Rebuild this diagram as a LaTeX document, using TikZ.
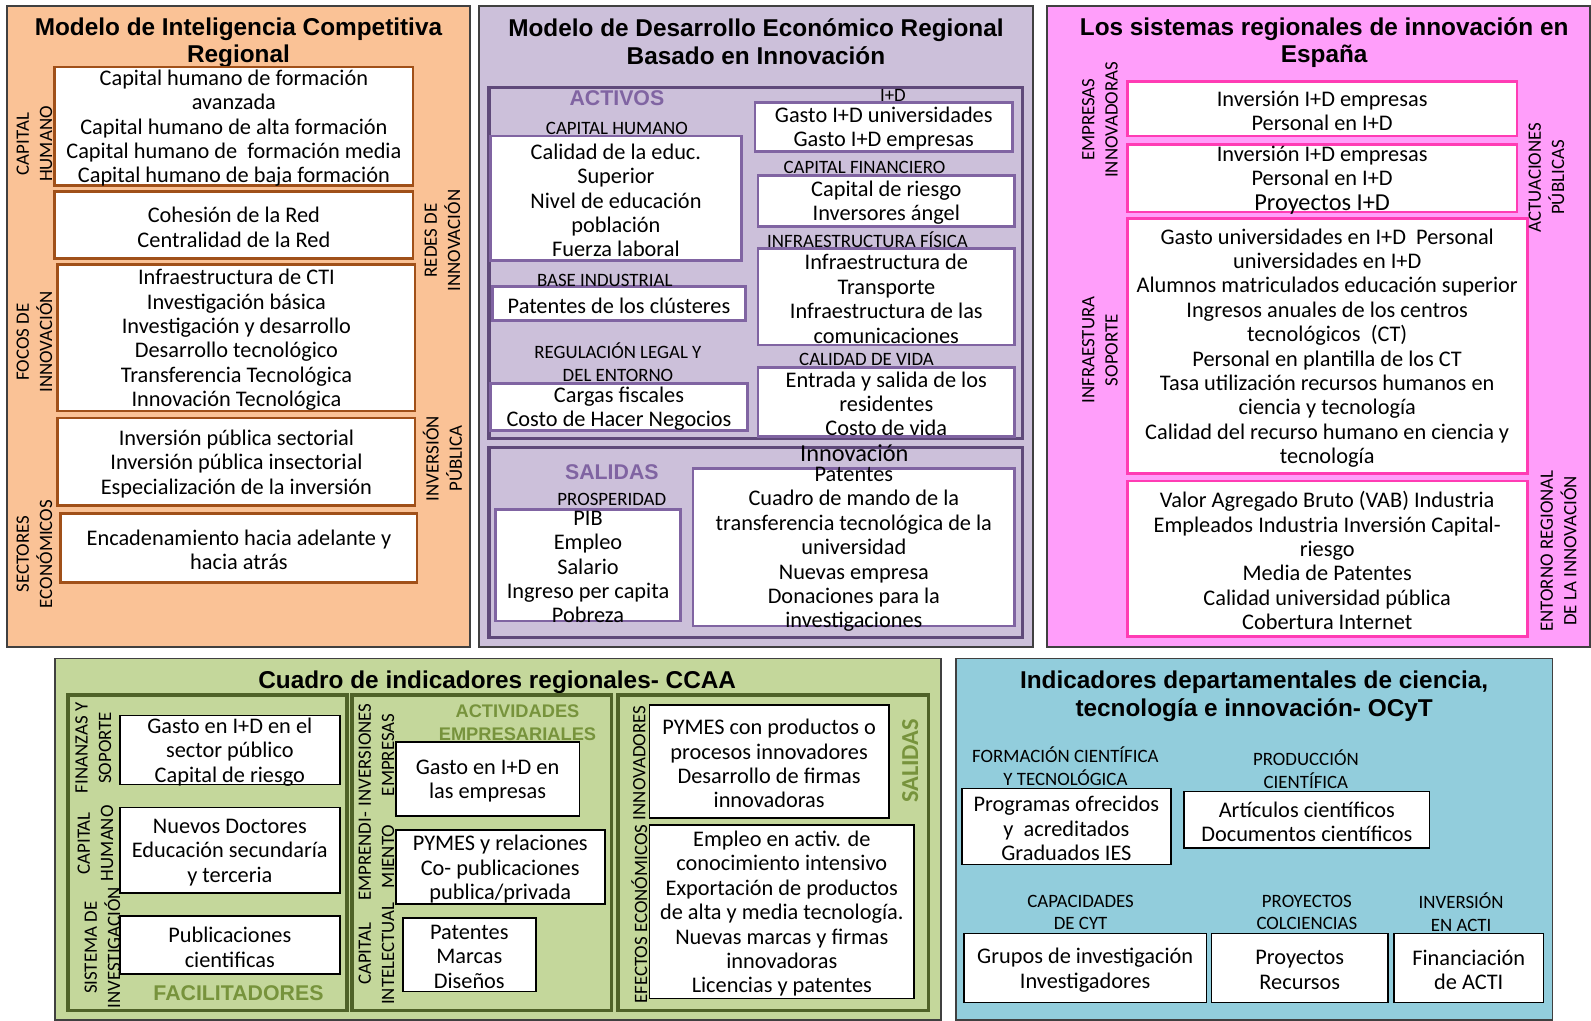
\documentclass[tikz,border=0pt]{standalone}
\usepackage{fontspec}
\setmainfont{Carlito}
\newfontfamily\arialfont{Liberation Sans}
\usetikzlibrary{calc}
\definecolor{naranja}{RGB}{250,194,150}
\definecolor{naranjaborde}{RGB}{160,80,25}
\definecolor{lila}{RGB}{204,192,218}
\definecolor{lilaborde}{RGB}{128,100,162}
\definecolor{lilaoscuro}{RGB}{95,73,122}
\definecolor{rosa}{RGB}{255,158,250}
\definecolor{rosaborde}{RGB}{255,60,180}
\definecolor{verde}{RGB}{196,215,155}
\definecolor{verdeborde}{RGB}{79,98,40}
\definecolor{verdetexto}{RGB}{119,147,60}
\definecolor{azul}{RGB}{146,205,220}

\tikzset{
  panel/.style={draw=black!75, line width=0.9pt},
  marco/.style={line width=1.6pt},
  cuadro/.style={fill=white, line width=1.4pt},
  cnar/.style={draw=naranjaborde},
  clila/.style={draw=lilaborde},
  crosa/.style={draw=rosaborde},
  cneg/.style={draw=black, line width=0.8pt},
  txt/.style={align=center, inner sep=0pt, font=\fontsize{11}{12}\selectfont},
  etiq/.style={align=center, inner sep=0pt, font=\fontsize{9.3}{11}\selectfont},
  lado/.style={etiq, rotate=90, font=\fontsize{9.3}{11.5}\selectfont},
  titulo/.style={align=center, inner sep=0pt, font=\arialfont\bfseries\fontsize{12}{13.5}\selectfont},
  seccion/.style={align=center, inner sep=0pt, font=\arialfont\bfseries\fontsize{10.5}{12}\selectfont},
}

% recuadro blanco con texto centrado
\newcommand{\caja}[5][cneg]{%
  \draw[cuadro,#1] #3 rectangle #4;
  \node[txt, yshift=-1pt] (#2) at ($#3!0.5!#4$) {#5};}

\begin{document}
\begin{tikzpicture}[x=0.5pt, y=-0.5pt]
  \useasboundingbox (0,0) rectangle (1568,1006);
  \fill[white] (0,0) rectangle (1568,1006);

  % Inteligencia competitiva
  \draw[panel, fill=naranja] (7,6) rectangle (463,638);
  \node[titulo] (tIC) at (235,42) {Modelo de Inteligencia Competitiva\\Regional};
  \caja[cnar]{capHum}{(54,66)}{(407,183)}{Capital humano de formación\\avanzada\\Capital humano de alta formación\\Capital humano de\ \ formación media\\Capital humano de baja formación}
  \caja[cnar]{redes}{(54,189)}{(407,255)}{Cohesión de la Red\\Centralidad de la Red}
  \caja[cnar]{focos}{(57,261)}{(409,405)}{Infraestructura de CTI\\Investigación básica\\Investigación y desarrollo\\Desarrollo tecnológico\\Transferencia Tecnológica\\Innovación Tecnológica}
  \caja[cnar]{invPub}{(57,412)}{(409,498)}{Inversión pública sectorial\\Inversión pública insectorial\\Especialización de la inversión}
  \caja[cnar]{sectores}{(60,506)}{(411,574)}{Encadenamiento hacia adelante y\\hacia atrás}
  \node[lado] (lCapHum) at (34,142) {CAPITAL\\HUMANO};
  \node[lado] (lFocos) at (34,337) {FOCOS DE\\INNOVACIÓN};
  \node[lado] (lSect) at (34,546) {SECTORES\\ECONÓMICOS};
  \node[lado] (lRedes) at (436,237) {REDES DE\\INNOVACIÓN};
  \node[lado] (lInv) at (436,452) {INVERSIÓN\\PÚBLICA};

  % Desarrollo economico regional
  \draw[panel, fill=lila] (472,6) rectangle (1018,638);
  \node[titulo] (tDE) at (745,41) {Modelo de Desarrollo Económico Regional\\Basado en Innovación};
  \draw[marco, draw=lilaoscuro] (482,86) rectangle (1008,432);
  \draw[marco, draw=lilaoscuro] (482,441) rectangle (1008,628);
  \node[seccion, text=lilaborde] (activos) at (608,97) {ACTIVOS};
  \caja[clila]{calidad}{(483,134)}{(731,257)}{Calidad de la educ.\\Superior\\Nivel de educación\\población\\Fuerza laboral}
  \node[etiq] (lCH) at (608,127) {CAPITAL HUMANO};
  \caja[clila]{patClu}{(485,282)}{(735,316)}{Patentes de los clústeres}
  \node[etiq] (lBI) at (596,276) {BASE INDUSTRIAL};
  \caja[clila]{cargas}{(483,378)}{(737,424)}{Cargas fiscales\\Costo de Hacer Negocios}
  \node[etiq] (lReg) at (609,357) {REGULACIÓN LEGAL Y\\DEL ENTORNO};
  \caja[clila]{gasto}{(744,101)}{(998,149)}{Gasto I+D universidades\\Gasto I+D empresas}
  \node[etiq] (lID) at (880,94) {I+D};
  \caja[clila]{riesgo}{(747,173)}{(1000,223)}{Capital de riesgo\\Inversores ángel}
  \node[etiq] (lCF) at (852,165) {CAPITAL FINANCIERO};
  \caja[clila]{infra}{(747,245)}{(1000,340)}{Infraestructura de\\Transporte\\Infraestructura de las\\comunicaciones}
  \node[etiq] (lIF) at (855,236) {INFRAESTRUCTURA FÍSICA};
  \caja[clila]{vida}{(747,362)}{(1000,430)}{Entrada y salida de los\\residentes\\Costo de vida}
  \node[etiq] (lCV) at (854,354) {CALIDAD DE VIDA};
  \node[seccion, text=lilaborde] (salidasP) at (603,465) {SALIDAS};
  \caja[clila]{prosp}{(488,502)}{(671,612)}{PIB\\Empleo\\Salario\\Ingreso per capita\\Pobreza}
  \node[etiq] (lProsp) at (603,492) {PROSPERIDAD};
  \caja[clila]{innov}{(683,462)}{(1000,617)}{Patentes\\Cuadro de mando de la\\transferencia tecnológica de la\\universidad\\Nuevas empresa\\Donaciones para la\\investigaciones}
  \node[txt, font=\fontsize{12}{13}\selectfont] (lInno) at (842,447) {Innovación};

  % Sistemas regionales de innovacion
  \draw[panel, fill=rosa] (1032,6) rectangle (1567,638);
  \node[titulo] (tSR) at (1305,42) {Los sistemas regionales de innovación en\\España};
  \caja[crosa]{empr1}{(1111,80)}{(1495,134)}{Inversión I+D empresas\\Personal en I+D}
  \caja[crosa]{empr2}{(1111,142)}{(1495,209)}{Inversión I+D empresas\\Personal en I+D\\{\fontsize{12}{13}\selectfont Proyectos I+D}}
  \caja[crosa]{soporte}{(1111,215)}{(1505,467)}{Gasto universidades en I+D\ \ Personal\\universidades en I+D\\Alumnos matriculados educación superior\\Ingresos anuales de los centros\\tecnológicos\ \ (CT)\\Personal en plantilla de los CT\\Tasa utilización recursos humanos en\\ciencia y tecnología\\Calidad del recurso humano en ciencia y\\tecnología}
  \caja[crosa]{entorno}{(1111,474)}{(1505,627)}{Valor Agregado Bruto (VAB) Industria\\Empleados Industria Inversión Capital-\\riesgo\\Media de Patentes\\Calidad universidad pública\\Cobertura Internet}
  \node[lado] (lEmpr) at (1084,118) {EMPRESAS\\INNOVADORAS};
  \node[lado] (lInfra) at (1084,345) {INFRAESTURA\\SOPORTE};
  \node[lado] (lAct) at (1524,175) {ACTUACIONES\\PÚBLICAS};
  \node[lado] (lEnt) at (1536,543) {ENTORNO REGIONAL\\DE LA INNOVACIÓN};

  % Cuadro de indicadores CCAA
  \draw[panel, fill=verde] (54,649) rectangle (927,1005);
  \node[titulo] (tCI) at (490,672) {Cuadro de indicadores regionales- CCAA};
  \draw[marco, draw=verdeborde] (67,685) rectangle (342,996);
  \draw[marco, draw=verdeborde] (347,685) rectangle (603,996);
  \draw[marco, draw=verdeborde] (609,685) rectangle (915,996);
  \caja{finanzas}{(118,705)}{(335,773)}{Gasto en I+D en el\\sector público\\Capital de riesgo}
  \caja{doctores}{(118,796)}{(335,880)}{Nuevos Doctores\\Educación secundaría\\y terceria}
  \caja{public}{(118,903)}{(335,960)}{Publicaciones\\cientificas}
  \node[seccion, text=verdetexto] (facil) at (235,979) {FACILITADORES};
  \node[lado] (lFin) at (92,737) {FINANZAS Y\\SOPORTE};
  \node[lado] (lCapV) at (94,831) {CAPITAL\\HUMANO};
  \node[lado] (lSist) at (101,934) {SISTEMA DE\\INVESTIGACIÓN};
  \node[seccion, text=verdetexto, font=\arialfont\bfseries\fontsize{9}{11.5}\selectfont] (actEmp) at (510,712) {ACTIVIDADES\\EMPRESARIALES};
  \caja{gastoEmp}{(390,731)}{(571,804)}{Gasto en I+D en\\las empresas}
  \caja{pymes}{(390,818)}{(596,891)}{PYMES y relaciones\\Co- publicaciones\\publica/privada}
  \caja{patentes}{(397,905)}{(528,977)}{Patentes\\Marcas\\Diseños}
  \node[lado] (lInvE) at (371,744) {INVERSIONES\\EMPRESAS};
  \node[lado] (lEmpren) at (371,844) {EMPRENDI-\\MIENTO};
  \node[lado] (lCapI) at (371,940) {CAPITAL\\INTELECTUAL};
  \caja{innovad}{(640,695)}{(876,806)}{PYMES con productos o\\procesos innovadores\\Desarrollo de firmas\\innovadoras}
  \caja{efectos}{(640,813)}{(901,984)}{Empleo en activ. de\\conocimiento intensivo\\Exportación de productos\\de alta y media tecnología.\\Nuevas marcas y firmas\\innovadoras\\Licencias y patentes}
  \node[lado] (lInnov) at (630,752) {INNOVADORES};
  \node[lado] (lEfec) at (630,901) {EFECTOS ECONÓMICOS};
  \node[rotate=90, inner sep=0pt, text=verdetexto, font=\bfseries\fontsize{12}{13}\selectfont] (salidasV) at (897,750) {SALIDAS};

  % Indicadores OCyT
  \draw[panel, fill=azul] (942,649) rectangle (1530,1005);
  \node[titulo] (tOC) at (1236,686) {Indicadores departamentales de ciencia,\\tecnología e innovación- OCyT};
  \caja{progr}{(948,777)}{(1154,852)}{Programas ofrecidos\\y\ \ acreditados\\Graduados IES}
  \node[etiq] (lForm) at (1050,755) {FORMACIÓN CIENTÍFICA\\Y TECNOLÓGICA};
  \caja{articulos}{(1167,780)}{(1409,836)}{Artículos científicos\\Documentos científicos}
  \node[etiq] (lProd) at (1287,758) {PRODUCCIÓN\\CIENTÍFICA};
  \caja{grupos}{(950,920)}{(1189,988)}{Grupos de investigación\\Investigadores}
  \node[etiq] (lCap) at (1065,899) {CAPACIDADES\\DE CYT};
  \caja{proy}{(1194,920)}{(1368,988)}{Proyectos\\Recursos}
  \node[etiq] (lProy) at (1288,899) {PROYECTOS\\COLCIENCIAS};
  \caja{financ}{(1374,920)}{(1521,988)}{Financiación\\de ACTI}
  \node[etiq] (lInvA) at (1440,899) {INVERSIÓN\\EN ACTI};
\end{tikzpicture}
\end{document}
